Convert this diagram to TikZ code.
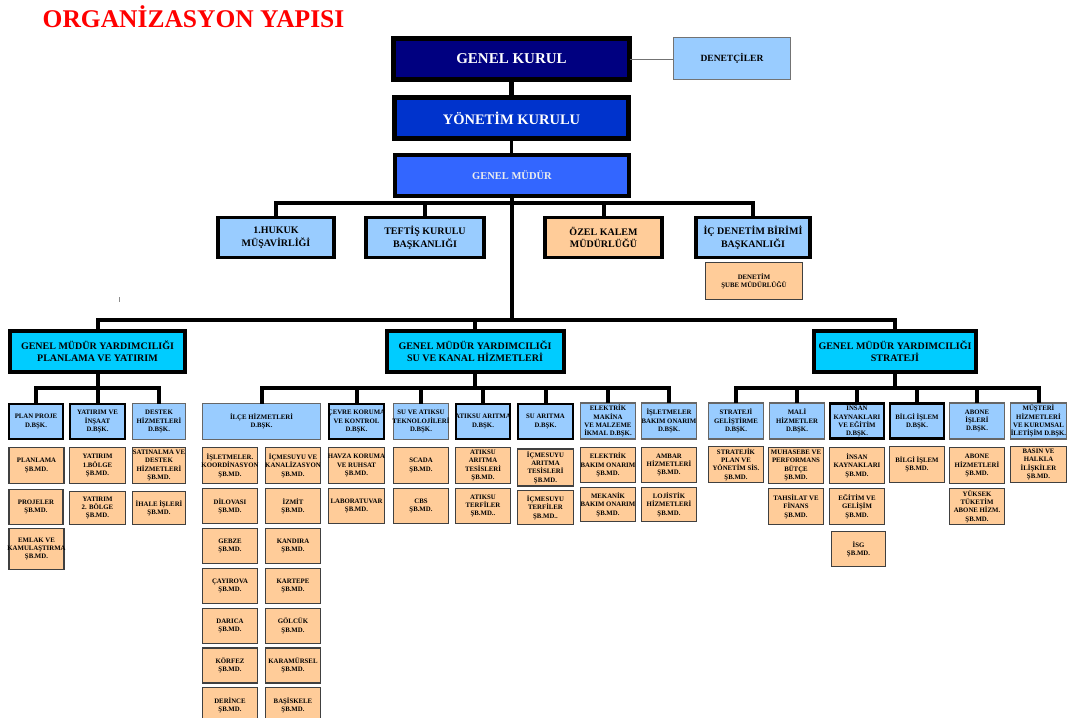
\documentclass[tikz,border=0pt]{standalone}
\usepackage{fontspec}
\setmainfont{Liberation Serif}
\definecolor{navy}{HTML}{000080}
\definecolor{ykblue}{HTML}{0033CC}
\definecolor{gmblue}{HTML}{3366FF}
\definecolor{lblue}{HTML}{99CCFF}
\definecolor{gmycyan}{HTML}{00CCFF}
\definecolor{sorange}{HTML}{FFCC99}
\tikzset{
  every node/.style={inner sep=0pt, outer sep=0pt},
  bgk/.style={draw=black, line width=5pt, fill=navy},
  byk/.style={draw=black, line width=5pt, fill=ykblue},
  bgm/.style={draw=black, line width=4pt, fill=gmblue},
  bden/.style={draw=black!55, line width=1.2pt, fill=lblue},
  b2/.style={draw=black, line width=3.5pt, fill=lblue},
  b2o/.style={draw=black, line width=3.5pt, fill=sorange},
  bgmy/.style={draw=black, line width=4pt, fill=gmycyan},
  db/.style={draw=black!60, line width=1.3pt, fill=lblue},
  dbb/.style={draw=black, line width=2.2pt, fill=lblue},
  sb/.style={draw=black!75, line width=1.3pt, fill=sorange},
  tgk/.style={align=center, text=white, font=\fontsize{15}{17}\selectfont\bfseries},
  tyk/.style={align=center, text=white, font=\fontsize{14.5}{17}\selectfont\bfseries},
  tgm/.style={align=center, text=white!93!black, font=\fontsize{10.5}{12}\selectfont\bfseries},
  tden/.style={align=center, text=black, font=\fontsize{9.5}{11}\selectfont\bfseries},
  t2/.style={align=center, text=black, font=\fontsize{10}{12.5}\selectfont\bfseries},
  tgmy/.style={align=center, text=black, font=\fontsize{10}{12}\selectfont\bfseries},
  ts/.style={align=center, text=black, font=\fontsize{6.8}{8.4}\selectfont\bfseries},
  conn/.style={draw=black, line width=4pt},
}
% box style, text style, name, x, y, width, height, text
\newcommand\bx[8]{%
  \node[#1, minimum width=#6pt, minimum height=#7pt] (#3) at (#4,#5) {};
  \node[#2] (#3t) at (#3.center) {#8};}
\begin{document}
\begin{tikzpicture}[x=1pt, y=-1pt]
\useasboundingbox (0,0) rectangle (1069,718);
\node[anchor=base, text=red, font=\fontsize{25.5}{28}\selectfont\bfseries] (title) at (193.5,27) {ORGANİZASYON YAPISI};

% top
\bx{bgk}{tgk}{gk}{511.5}{59}{236}{41}{GENEL KURUL}
\bx{bden}{tden}{den}{732}{58.5}{117}{42}{DENETÇİLER}
\bx{byk}{tyk}{yk}{511.5}{118}{234}{41}{YÖNETİM KURULU}
\bx{bgm}{tgm}{gm}{512}{175.5}{234}{41}{GENEL MÜDÜR}

% second tier
\bx{b2}{t2}{hukuk}{276}{237.5}{116}{40}{1.HUKUK\\MÜŞAVİRLİĞİ}
\bx{b2}{t2}{teftis}{425}{237.5}{118}{40}{TEFTİŞ KURULU\\BAŞKANLIĞI}
\bx{b2o}{t2}{ozel}{603.5}{237.5}{117}{40}{ÖZEL KALEM\\MÜDÜRLÜĞÜ}
\bx{b2}{t2}{icden}{753}{237.5}{114}{40}{İÇ DENETİM BİRİMİ\\BAŞKANLIĞI}
\bx{sb}{ts}{densb}{754}{281}{97}{37}{DENETİM\\ŞUBE MÜDÜRLÜĞÜ}

% GMY
\bx{bgmy}{tgmy}{gmy1}{97.5}{351.5}{175}{41}{GENEL MÜDÜR YARDIMCILIĞI\\PLANLAMA VE YATIRIM}
\bx{bgmy}{tgmy}{gmy2}{475}{351.5}{177}{41}{GENEL MÜDÜR YARDIMCILIĞI\\SU VE KANAL HİZMETLERİ}
\bx{bgmy}{tgmy}{gmy3}{895}{351.5}{162}{41}{GENEL MÜDÜR YARDIMCILIĞI\\STRATEJİ}

% left section
\bx{dbb}{ts}{pp}{36}{421.5}{54}{35}{PLAN PROJE\\D.BŞK.}
\bx{dbb}{ts}{yi}{97.5}{421.5}{55}{35}{YATIRIM VE\\İNŞAAT\\D.BŞK.}
\bx{db}{ts}{dh}{159}{421.5}{53}{36}{DESTEK\\HİZMETLERİ\\D.BŞK.}
\bx{sb}{ts}{pl}{36.5}{465.5}{55}{36}{PLANLAMA\\ŞB.MD.}
\bx{sb}{ts}{pj}{36}{507}{54}{35}{PROJELER\\ŞB.MD.}
\bx{sb}{ts}{em}{36.5}{549}{55}{41}{EMLAK VE\\KAMULAŞTIRMA\\ŞB.MD.}
\bx{sb}{ts}{yb1}{97.5}{465.5}{56}{36}{YATIRIM\\1.BÖLGE\\ŞB.MD.}
\bx{sb}{ts}{yb2}{97.5}{508}{56}{33}{YATIRIM\\2. BÖLGE\\ŞB.MD.}
\bx{sb}{ts}{sa}{159}{465.5}{53}{36}{SATINALMA VE\\DESTEK\\HİZMETLERİ\\ŞB.MD.}
\bx{sb}{ts}{ih}{159}{508}{53}{33}{İHALE İŞLERİ\\ŞB.MD.}

% middle section
\bx{db}{ts}{ilce}{261.5}{421.5}{118}{36}{İLÇE HİZMETLERİ\\D.BŞK.}
\bx{sb}{ts}{isk}{230}{465.5}{55}{36}{İŞLETMELER.\\KOORDİNASYON\\ŞB.MD.}
\bx{sb}{ts}{dil}{230}{506}{55}{35}{DİLOVASI\\ŞB.MD.}
\bx{sb}{ts}{geb}{230}{546}{55}{35}{GEBZE\\ŞB.MD.}
\bx{sb}{ts}{cay}{230}{586}{55}{35}{ÇAYIROVA\\ŞB.MD.}
\bx{sb}{ts}{dar}{230}{626}{55}{35}{DARICA\\ŞB.MD.}
\bx{sb}{ts}{kor}{230}{665.5}{55}{35}{KÖRFEZ\\ŞB.MD.}
\bx{sb}{ts}{der}{230}{705}{55}{35}{DERİNCE\\ŞB.MD.}
\bx{sb}{ts}{ick}{293}{465.5}{55}{36}{İÇMESUYU VE\\KANALİZASYON\\ŞB.MD.}
\bx{sb}{ts}{izm}{293}{506}{55}{35}{İZMİT\\ŞB.MD.}
\bx{sb}{ts}{kan}{293}{546}{55}{35}{KANDIRA\\ŞB.MD.}
\bx{sb}{ts}{kar}{293}{586}{55}{35}{KARTEPE\\ŞB.MD.}
\bx{sb}{ts}{gol}{293}{626}{55}{35}{GÖLCÜK\\ŞB.MD.}
\bx{sb}{ts}{krm}{293}{665.5}{55}{35}{KARAMÜRSEL\\ŞB.MD.}
\bx{sb}{ts}{bas}{293}{705}{55}{35}{BAŞİSKELE\\ŞB.MD.}

\bx{dbb}{ts}{ce}{356.5}{421.5}{55}{35}{ÇEVRE KORUMA\\VE KONTROL\\D.BŞK.}
\bx{sb}{ts}{hv}{356.5}{465.5}{56}{36}{HAVZA KORUMA\\VE RUHSAT\\ŞB.MD.}
\bx{sb}{ts}{lab}{356.5}{506}{56}{35}{LABORATUVAR\\ŞB.MD.}
\bx{db}{ts}{sv}{421}{421.5}{55}{36}{SU VE ATIKSU\\TEKNOLOJİLERİ\\D.BŞK.}
\bx{sb}{ts}{sc}{421}{465.5}{55}{36}{SCADA\\ŞB.MD.}
\bx{sb}{ts}{cbs}{421}{506}{55}{35}{CBS\\ŞB.MD.}
\bx{dbb}{ts}{aa}{483}{421.5}{54}{35}{ATIKSU ARITMA\\D.BŞK.}
\bx{sb}{ts}{aat}{483}{465.5}{55}{36}{ATIKSU\\ARITMA\\TESİSLERİ\\ŞB.MD.}
\bx{sb}{ts}{aatf}{483}{506}{55}{35}{ATIKSU\\TERFİLER\\ŞB.MD..}
\bx{dbb}{ts}{sua}{545.5}{421.5}{55}{35}{SU ARITMA\\D.BŞK.}
\bx{sb}{ts}{iat}{545.5}{467.5}{56}{37}{İÇMESUYU\\ARITMA\\TESİSLERİ\\ŞB.MD.}
\bx{sb}{ts}{itf}{545.5}{507.5}{56}{34}{İÇMESUYU\\TERFİLER\\ŞB.MD..}
\bx{db}{ts}{el}{608}{421}{55}{36}{ELEKTRİK\\MAKİNA\\VE MALZEME\\İKMAL D.BŞK.}
\bx{sb}{ts}{eb}{608}{465}{55}{35}{ELEKTRİK\\BAKIM ONARIM\\ŞB.MD.}
\bx{sb}{ts}{mb}{608}{504.5}{55}{34}{MEKANİK\\BAKIM ONARIM\\ŞB.MD.}
\bx{db}{ts}{ib}{669}{421}{55}{36}{İŞLETMELER\\BAKIM ONARIM\\D.BŞK.}
\bx{sb}{ts}{am}{669}{465}{55}{35}{AMBAR\\HİZMETLERİ\\ŞB.MD.}
\bx{sb}{ts}{lj}{669}{504.5}{55}{34}{LOJİSTİK\\HİZMETLERİ\\ŞB.MD.}

% right section
\bx{db}{ts}{sg}{736}{421}{55}{36}{STRATEJİ\\GELİŞTİRME\\D.BŞK.}
\bx{sb}{ts}{sp}{736}{464.5}{55}{36}{STRATEJİK\\PLAN VE\\YÖNETİM SİS.\\ŞB.MD.}
\bx{db}{ts}{ma}{797}{421}{55}{36}{MALİ\\HİZMETLER\\D.BŞK.}
\bx{sb}{ts}{mu}{796}{465.5}{55}{36}{MUHASEBE VE\\PERFORMANS\\BÜTÇE\\ŞB.MD.}
\bx{sb}{ts}{ta}{796}{506.5}{55}{36}{TAHSİLAT VE\\FİNANS\\ŞB.MD.}
\bx{dbb}{ts}{ik}{857}{421}{54}{35}{İNSAN\\KAYNAKLARI\\VE EĞİTİM\\D.BŞK.}
\bx{sb}{ts}{iks}{857}{465.5}{55}{36}{İNSAN\\KAYNAKLARI\\ŞB.MD.}
\bx{sb}{ts}{eg}{857}{506.5}{55}{36}{EĞİTİM VE\\GELİŞİM\\ŞB.MD.}
\bx{sb}{ts}{isg}{858.5}{549}{54}{35}{İSG\\ŞB.MD.}
\bx{dbb}{ts}{bi}{917}{421}{54}{35}{BİLGİ İŞLEM\\D.BŞK.}
\bx{sb}{ts}{bis}{917}{464.5}{55}{36}{BİLGİ İŞLEM\\ŞB.MD.}
\bx{db}{ts}{ab}{977}{421}{55}{36}{ABONE\\İŞLERİ\\D.BŞK.}
\bx{sb}{ts}{abh}{977}{465.5}{55}{36}{ABONE\\HİZMETLERİ\\ŞB.MD.}
\bx{sb}{ts}{yt}{977}{506.5}{55}{36}{YÜKSEK\\TÜKETİM\\ABONE HİZM.\\ŞB.MD.}
\bx{db}{ts}{mh}{1038.5}{421}{56}{36}{MÜŞTERİ\\HİZMETLERİ\\VE KURUMSAL\\İLETİŞİM D.BŞK.}
\bx{sb}{ts}{bh}{1038.5}{464.5}{56}{36}{BASIN VE\\HALKLA\\İLİŞKİLER\\ŞB.MD.}

% bus levels
\coordinate (bus2) at (0,203);
\coordinate (bus1) at (0,320);
\coordinate (bus3) at (0,388);

% connectors
\draw[draw=black!55, line width=1pt] (gk.east) -- (gk.east -| den.west);
\draw[conn, line width=5pt] (gk.south) -- (yk.north);
\draw[conn, line width=3.5pt] (yk.south) -- (yk.south |- gm.north);
\draw[conn] (gm.south) -- (gm.south |- bus1);
\draw[conn] (hukuk.north) -- (hukuk.north |- bus2) -- (icden.north |- bus2) -- (icden.north);
\draw[conn] (teftis.north) -- (teftis.north |- bus2);
\draw[conn] (ozel.north) -- (ozel.north |- bus2);
\draw[conn] (gmy1.north) -- (gmy1.north |- bus1) -- (gmy3.north |- bus1) -- (gmy3.north);
\draw[conn] (gmy2.north) -- (gmy2.north |- bus1);

\draw[conn] (gmy1.south) -- (gmy1.south |- bus3);
\draw[conn] (pp.north) -- (pp.north |- bus3) -- (dh.north |- bus3) -- (dh.north);
\draw[conn] (yi.north) -- (yi.north |- bus3);

\draw[conn] (gmy2.south) -- (gmy2.south |- bus3);
\draw[conn] (ilce.north) -- (ilce.north |- bus3) -- (ib.north |- bus3) -- (ib.north);
\foreach \n in {ce,sv,aa,sua,el} \draw[conn] (\n.north) -- (\n.north |- bus3);

\draw[conn] (gmy3.south) -- (gmy3.south |- bus3);
\draw[conn] (sg.north) -- (sg.north |- bus3) -- (mh.north |- bus3) -- (mh.north);
\foreach \n in {ma,ik,bi,ab} \draw[conn] (\n.north) -- (\n.north |- bus3);

% stray tick mark
\coordinate (tick) at (119.5,297);
\draw[draw=black!45, line width=1pt] (tick) -- ++(0,5);
\end{tikzpicture}
\end{document}
